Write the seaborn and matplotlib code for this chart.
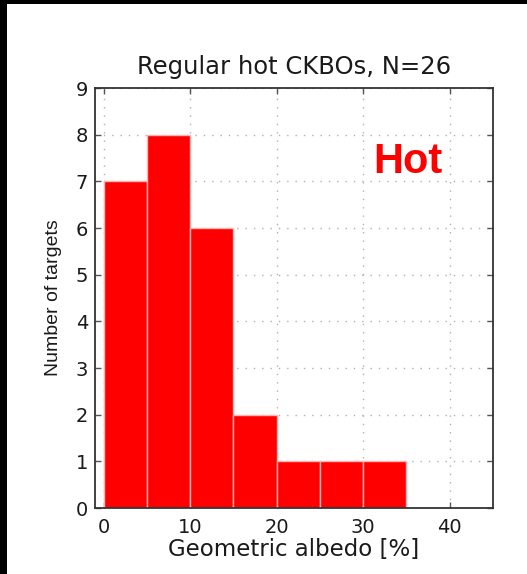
import matplotlib
matplotlib.use("Agg")
import matplotlib.pyplot as plt
from matplotlib.patches import Rectangle
import numpy as np
import seaborn as sns

# Histogram of geometric albedo for the regular hot classical KBOs
bin_edges = [0, 5, 10, 15, 20, 25, 30, 35]
counts = [7, 8, 6, 2, 1, 1, 1]
x_ticks = [0, 10, 20, 30, 40]
y_ticks = [0, 1, 2, 3, 4, 5, 6, 7, 8, 9]
title = "Regular hot CKBOs, N=26"
x_label = "Geometric albedo [%]"
y_label = "Number of targets"
tag = "Hot"

sns.set_theme(style="white")
plt.rcParams["font.family"] = ["DejaVu Sans"]

fig = plt.figure(figsize=(5.27, 5.74), dpi=100)
fig.patch.set_facecolor("white")
ax = fig.add_axes([95 / 527, 1 - 508 / 574, 398 / 527, 420 / 574])

centers = [(a + b) / 2 for a, b in zip(bin_edges[:-1], bin_edges[1:])]
sns.histplot(x=centers, weights=counts, bins=bin_edges, ax=ax,
             color="#ff0000", alpha=1.0, edgecolor="#ffb3b3", linewidth=1.0)

ax.set_xlim(-1, 45)
ax.set_ylim(0, 9)
ax.set_xticks(x_ticks)
ax.set_yticks(y_ticks)
ax.set_axisbelow(True)
ax.grid(True, linestyle=(0, (1, 5)), color="#b0b0b0", linewidth=1.0)

for s in ax.spines.values():
    s.set_visible(True)
    s.set_color("#333333")
    s.set_linewidth(1.3)

ax.tick_params(axis="both", which="major", direction="in", length=4, width=1,
               color="#555555", top=True, right=True, bottom=True, left=True,
               labelsize=14, labelcolor="#1a1a1a")
ax.tick_params(axis="x", pad=7)
ax.tick_params(axis="y", pad=5)

ax.set_title(title, fontsize=17.5, color="#1a1a1a", pad=10)
ax.set_xlabel(x_label, fontsize=16.5, color="#1a1a1a", labelpad=1)
ax.set_ylabel(y_label, fontsize=14, color="#1a1a1a", labelpad=10,
              family=["Liberation Sans", "DejaVu Sans"])

ax.text(35.2, 7.18, tag, color="#ff0000", fontsize=30, fontweight="bold",
        ha="center", va="baseline", family=["Liberation Sans", "DejaVu Sans"])

# dark frame along the top and left edges of the figure
fig.patches.append(Rectangle((0, 0), 7 / 527, 1, transform=fig.transFigure,
                             facecolor="black", edgecolor="none", zorder=10))
fig.patches.append(Rectangle((0, 1 - 4 / 574), 1, 4 / 574, transform=fig.transFigure,
                             facecolor="black", edgecolor="none", zorder=10))

fig.savefig("out.png", dpi=100, facecolor="white")
